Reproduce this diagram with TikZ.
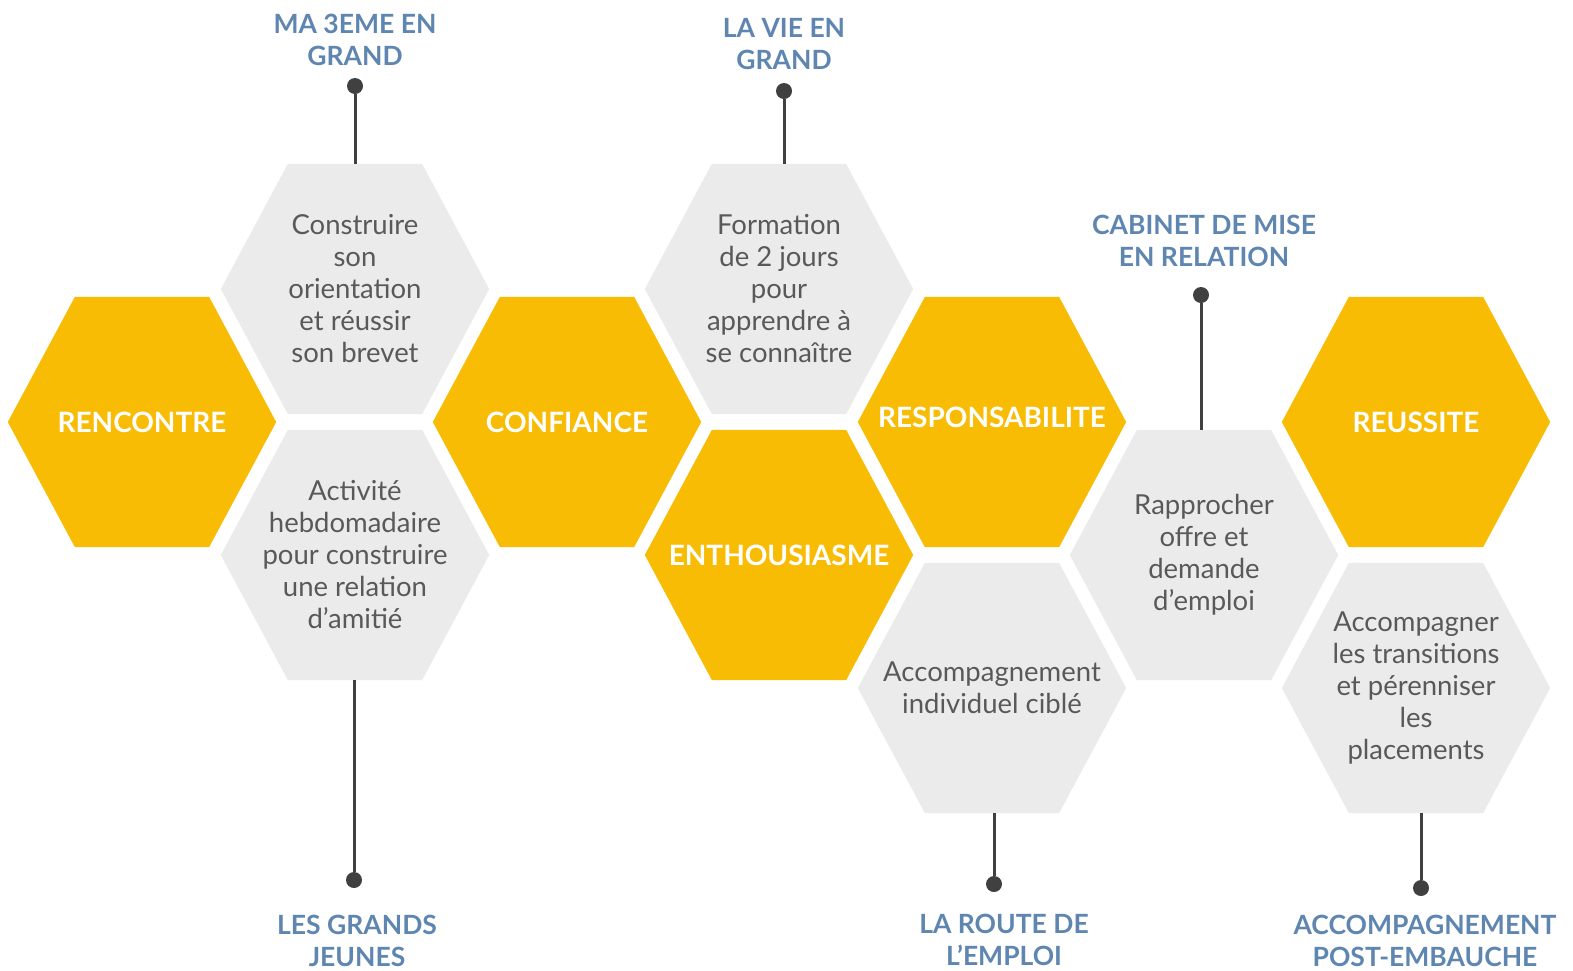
\documentclass[tikz,border=0pt]{standalone}
\usepackage{fontspec}
\setmainfont{Lato}
\usepackage{tikz}
\usetikzlibrary{calc, backgrounds}

\definecolor{colorHex}{RGB}{249, 188, 5}
\definecolor{colorCell}{RGB}{235, 235, 235}
\definecolor{colorText}{RGB}{89, 89, 89}
\definecolor{colorProg}{RGB}{94, 134, 176}
\definecolor{colorPin}{RGB}{64, 64, 64}

\newcommand{\cellFont}{\fontsize{27.5}{32}\selectfont}
\newcommand{\valueFont}{\fontsize{28}{32}\selectfont\bfseries}
\newcommand{\progFont}{\fontsize{26.5}{32}\selectfont\bfseries}

\tikzstyle{valueHex} = [rectangle, minimum width=268pt, minimum height=250pt, inner sep=0pt, align=center, text=white, font=\valueFont]
\tikzstyle{actionHex} = [rectangle, minimum width=268pt, minimum height=250pt, inner sep=0pt, align=center, text=colorText, font=\cellFont]
\tikzstyle{pinDot} = [circle, fill=colorPin, minimum size=16pt, inner sep=0pt]
\tikzstyle{pinStem} = [draw=colorPin, line width=3pt]
\tikzstyle{progLabel} = [align=center, inner sep=0pt, text=colorProg, font=\progFont]

\begin{document}
\begin{tikzpicture}[x=1pt, y=-1pt]

	\useasboundingbox (0,0) rectangle (1573,970);
	\clip (0,0) rectangle (1573,970);

	% valeurs
	\node (rencontre)[valueHex] at (142,422) {RENCONTRE};
	\node (confiance)[valueHex] at (567,422) {CONFIANCE};
	\node (enthousiasme)[valueHex] at (779,555) {ENTHOUSIASME};
	\node (responsabilite)[valueHex, text depth=10pt] at (992,422) {RESPONSABILITE};
	\node (reussite)[valueHex] at (1416,422) {REUSSITE};

	% actions
	\node (construire)[actionHex] at (355,289) {Construire\\son\\orientation\\et réussir\\son brevet};
	\node (activite)[actionHex] at (355,555) {Activité\\hebdomadaire\\pour construire\\une relation\\d'amitié};
	\node (formation)[actionHex] at (779,289) {Formation\\de 2 jours\\pour\\apprendre à\\se connaître};
	\node (accIndiv)[actionHex] at (992,688) {Accompagnement\\individuel ciblé};
	\node (rapprocher)[actionHex] at (1204,555) {Rapprocher\\offre et\\demande\\d’emploi};
	\node (accTrans)[actionHex] at (1416,688) {Accompagner\\les transitions\\et pérenniser\\les\\placements};

	% programmes
	\node (dotMa)[pinDot] at (355,86) {};
	\node (lblMa)[progLabel, yshift=46pt] at (dotMa) {MA 3EME EN\\GRAND};

	\node (dotVie)[pinDot] at (784,91) {};
	\node (lblVie)[progLabel, yshift=47pt] at (dotVie) {LA VIE EN\\GRAND};

	\node (dotCabinet)[pinDot] at (1201,295) {};
	\node (lblCabinet)[progLabel, xshift=3pt, yshift=54pt] at (dotCabinet) {CABINET DE MISE\\EN RELATION};

	\node (dotGrands)[pinDot] at (354,880) {};
	\node (lblGrands)[progLabel, xshift=3pt, yshift=-61pt] at (dotGrands) {LES GRANDS\\JEUNES};

	\node (dotRoute)[pinDot] at (994,884) {};
	\node (lblRoute)[progLabel, xshift=10pt, yshift=-56pt] at (dotRoute) {LA ROUTE DE\\L’EMPLOI};

	\node (dotPost)[pinDot] at (1421,888) {};
	\node (lblPost)[progLabel, xshift=4pt, yshift=-53pt] at (dotPost) {ACCOMPAGNEMENT\\POST-EMBAUCHE};

	% tiges
	\draw[pinStem] (dotMa) -- (dotMa |- construire.north);
	\draw[pinStem] (dotVie) -- (dotVie |- formation.north);
	\draw[pinStem] (dotCabinet) -- (dotCabinet |- rapprocher.north);
	\draw[pinStem] (dotGrands) -- (dotGrands |- activite.south);
	\draw[pinStem] (dotRoute) -- (dotRoute |- accIndiv.south);
	\draw[pinStem] (dotPost) -- (dotPost |- accTrans.south);

	% alveoles
	\begin{scope}[on background layer]
		\foreach \n/\c in {rencontre/colorHex, confiance/colorHex, enthousiasme/colorHex, responsabilite/colorHex, reussite/colorHex, construire/colorCell, activite/colorCell, formation/colorCell, accIndiv/colorCell, rapprocher/colorCell, accTrans/colorCell}
			\fill[\c] (\n.west) -- ($(\n.north west)!0.25!(\n.north east)$) -- ($(\n.north west)!0.75!(\n.north east)$) -- (\n.east) -- ($(\n.south west)!0.75!(\n.south east)$) -- ($(\n.south west)!0.25!(\n.south east)$) -- cycle;
	\end{scope}

\end{tikzpicture}
\end{document}
